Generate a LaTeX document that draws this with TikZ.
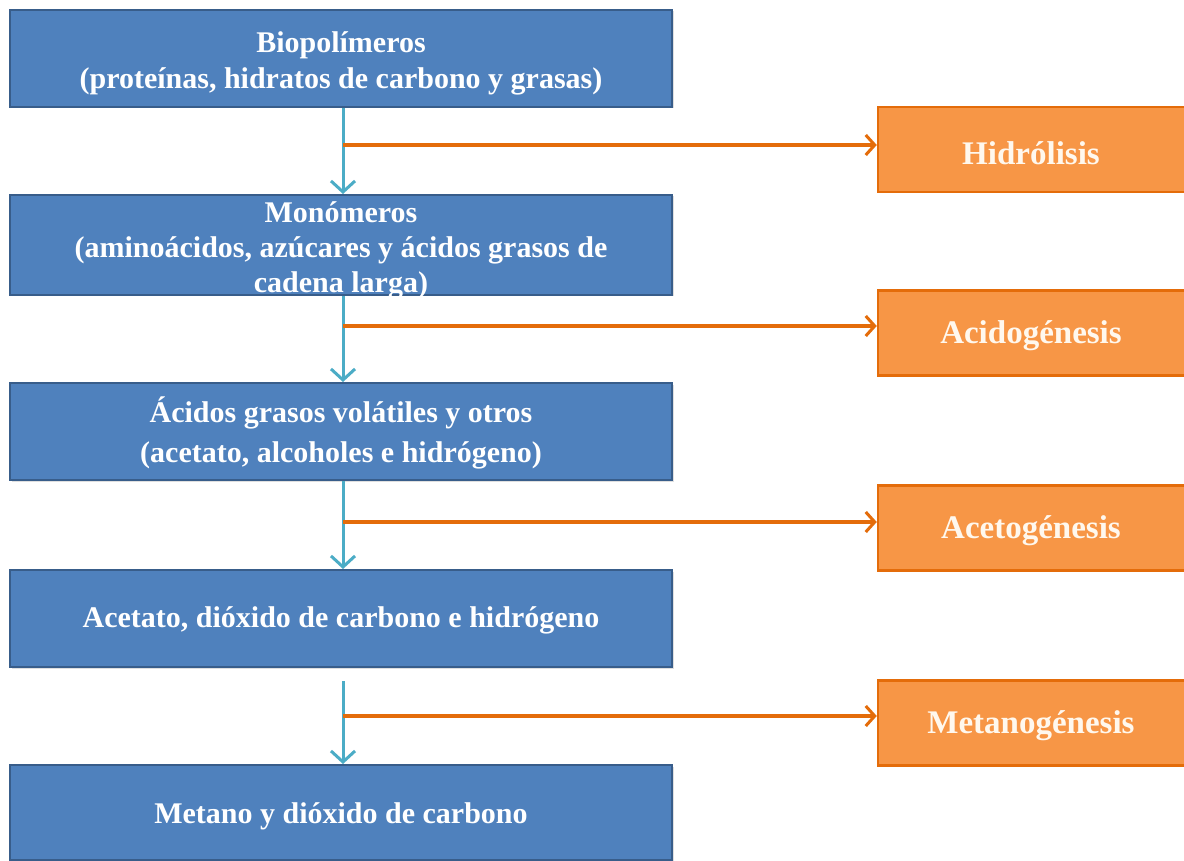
\documentclass[tikz,border=0pt]{standalone}
\usepackage{fontspec}
\setmainfont{Liberation Serif}
\usetikzlibrary{arrows.meta,shadows}
\definecolor{bluefill}{HTML}{4F81BD}
\definecolor{blueline}{HTML}{385D8A}
\definecolor{orangefill}{HTML}{F79646}
\definecolor{orangeline}{HTML}{E46C0A}
\definecolor{tealarrow}{HTML}{4BACC6}
\definecolor{creamtext}{HTML}{FFF8EE}
\tikzset{
  bluebox/.style={rectangle, draw=blueline, line width=2pt, fill=bluefill,
    minimum width=662pt, text=white, align=center,
    font=\bfseries\fontsize{30}{36}\selectfont, inner sep=0pt,
    drop shadow={opacity=0.25, shadow xshift=1.5pt, shadow yshift=-1.5pt}},
  bluetext/.style={text=white, align=center, inner sep=0pt,
    font=\bfseries\fontsize{30}{36}\selectfont},
  orangebox/.style={rectangle, draw=orangeline, line width=2.5pt, fill=orangefill,
    minimum width=310pt, minimum height=85pt, text=creamtext, align=center,
    font=\bfseries\fontsize{33}{38}\selectfont, inner sep=0pt},
  orangetext/.style={text=creamtext, inner sep=0pt,
    font=\bfseries\fontsize{33}{38}\selectfont},
  flowarrow/.style={draw=tealarrow, line width=3pt, -{Straight Barb[length=11pt,width=24pt,line width=3pt]}},
  stagearrow/.style={draw=orangeline, line width=3.5pt, -{Straight Barb[length=9pt,width=20pt,line width=3pt]}}
}
\begin{document}
\begin{tikzpicture}[x=1pt,y=-1pt]
\useasboundingbox (0,0) rectangle (1184,861);
\fill[white] (0,0) rectangle (1184,861);
\clip (0,0) rectangle (1184,861);
% blue boxes
\node[bluebox, minimum height=97pt] (b1) at (341,58.5) {};
\node[bluetext] (b1t) at (341,63) {Biopolímeros\\(proteínas, hidratos de carbono y grasas)};
\node[bluebox, minimum height=100pt] (b2) at (341,245) {};
\node[bluetext, font=\bfseries\fontsize{30}{35}\selectfont] (b2t) at (341,250) {Monómeros\\(aminoácidos, azúcares y ácidos grasos de\\cadena larga)};
\node[bluebox, minimum height=97pt] (b3) at (341,431.5) {};
\node[bluetext, font=\bfseries\fontsize{30}{40}\selectfont] (b3t) at (341,433) {Ácidos grasos volátiles y otros\\(acetato, alcoholes e hidrógeno)};
\node[bluebox, minimum height=97pt] (b4) at (341,618.5) {};
\node[bluetext] (b4t) at (341,620) {Acetato, dióxido de carbono e hidrógeno};
\node[bluebox, minimum height=95pt] (b5) at (341,812.5) {};
\node[bluetext] (b5t) at (341,816) {Metano y dióxido de carbono};
% orange boxes
\node[orangebox] (h1) at (1033,149.5) {};
\node[orangetext] (h1t) at (1031,153) {Hidrólisis};
\node[orangebox] (h2) at (1033,333) {};
\node[orangetext] (h2t) at (1031,336) {Acidogénesis};
\node[orangebox] (h3) at (1033,528) {};
\node[orangetext] (h3t) at (1031,531) {Acetogénesis};
\node[orangebox] (h4) at (1033,723) {};
\node[orangetext] (h4t) at (1031,726) {Metanogénesis};
% junction coordinates
\coordinate (j1) at (343,145);
\coordinate (j2) at (343,326);
\coordinate (j3) at (343,522);
\coordinate (j4) at (343,716);
\coordinate (s4) at (343,681);
% teal flow arrows
\draw[flowarrow] (b1.south -| j1) -- (b2.north -| j1);
\draw[flowarrow] (b2.south -| j2) -- (b3.north -| j2);
\draw[flowarrow] (b3.south -| j3) -- (b4.north -| j3);
\draw[flowarrow] (s4) -- (b5.north -| s4);
% orange stage arrows
\draw[stagearrow] (j1) -- (j1 -| h1.west);
\draw[stagearrow] (j2) -- (j2 -| h2.west);
\draw[stagearrow] (j3) -- (j3 -| h3.west);
\draw[stagearrow] (j4) -- (j4 -| h4.west);
\end{tikzpicture}
\end{document}
